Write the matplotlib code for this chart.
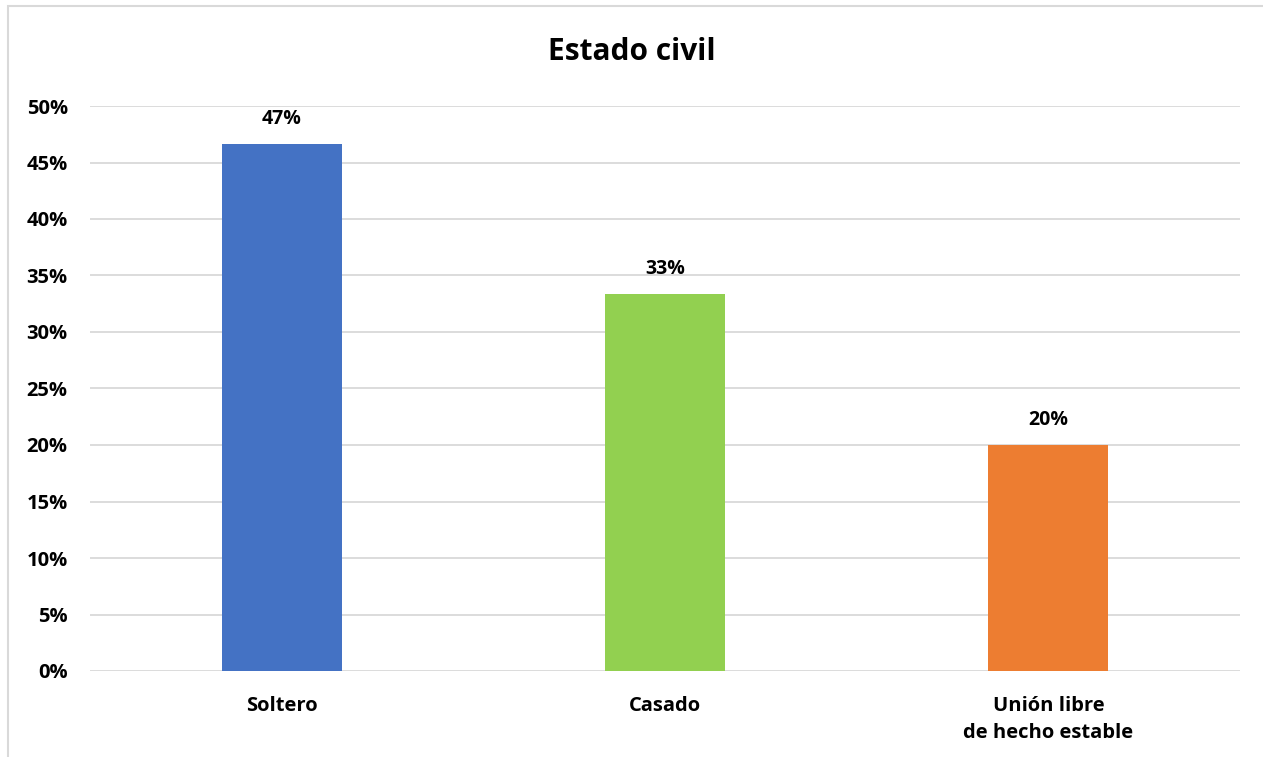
import matplotlib
matplotlib.use("Agg")
import matplotlib.pyplot as plt
from matplotlib.patches import Rectangle
from matplotlib.ticker import PercentFormatter, MultipleLocator

categories = ["Soltero", "Casado", "Unión libre\nde hecho estable"]
shares = [0.4667, 0.3333, 0.20]
colors = ["#4472C4", "#92D050", "#ED7D31"]

plt.rcParams["font.family"] = ["Open Sans", "DejaVu Sans"]
plt.rcParams["font.weight"] = "bold"

fig = plt.figure(figsize=(12.63, 7.57), dpi=100)
# chart frame
fig.patches.append(Rectangle((8 / 1263, -0.1), 1.2, (757 - 6) / 757 + 0.1,
                             transform=fig.transFigure, fill=False,
                             edgecolor="#D9D9D9", linewidth=1.5))

ax = fig.add_axes([90 / 1263, 1 - 671 / 757, 1150 / 1263, 565 / 757])
x = range(len(categories))
bars = ax.bar(x, shares, width=0.313, color=colors, zorder=3)

for b, v in zip(bars, shares):
    ax.annotate(f"{v:.0%}", (b.get_x() + b.get_width() / 2, v),
                xytext=(0, 18), textcoords="offset points",
                ha="center", va="center", fontsize=14, fontweight="bold")

ax.set_xlim(-0.5, 2.5)
ax.set_ylim(0, 0.5)
ax.yaxis.set_major_locator(MultipleLocator(0.05))
ax.yaxis.set_major_formatter(PercentFormatter(1.0, decimals=0))
ax.grid(axis="y", color="#D9D9D9", linewidth=1.3, zorder=0)
ax.set_xticks(list(x))
ax.set_xticklabels(categories, fontsize=14.5, fontweight="bold", linespacing=1.45)
ax.tick_params(axis="both", length=0, labelsize=14.5)
ax.tick_params(axis="x", pad=18)
ax.tick_params(axis="y", pad=16)
for lbl in ax.get_yticklabels():
    lbl.set_fontweight("bold")
for s in ax.spines.values():
    s.set_visible(False)

fig.text(0.5, 1 - 52 / 757, "Estado civil", ha="center", va="center",
         fontsize=21.5, fontweight="bold")

fig.savefig("out.png", dpi=100)
